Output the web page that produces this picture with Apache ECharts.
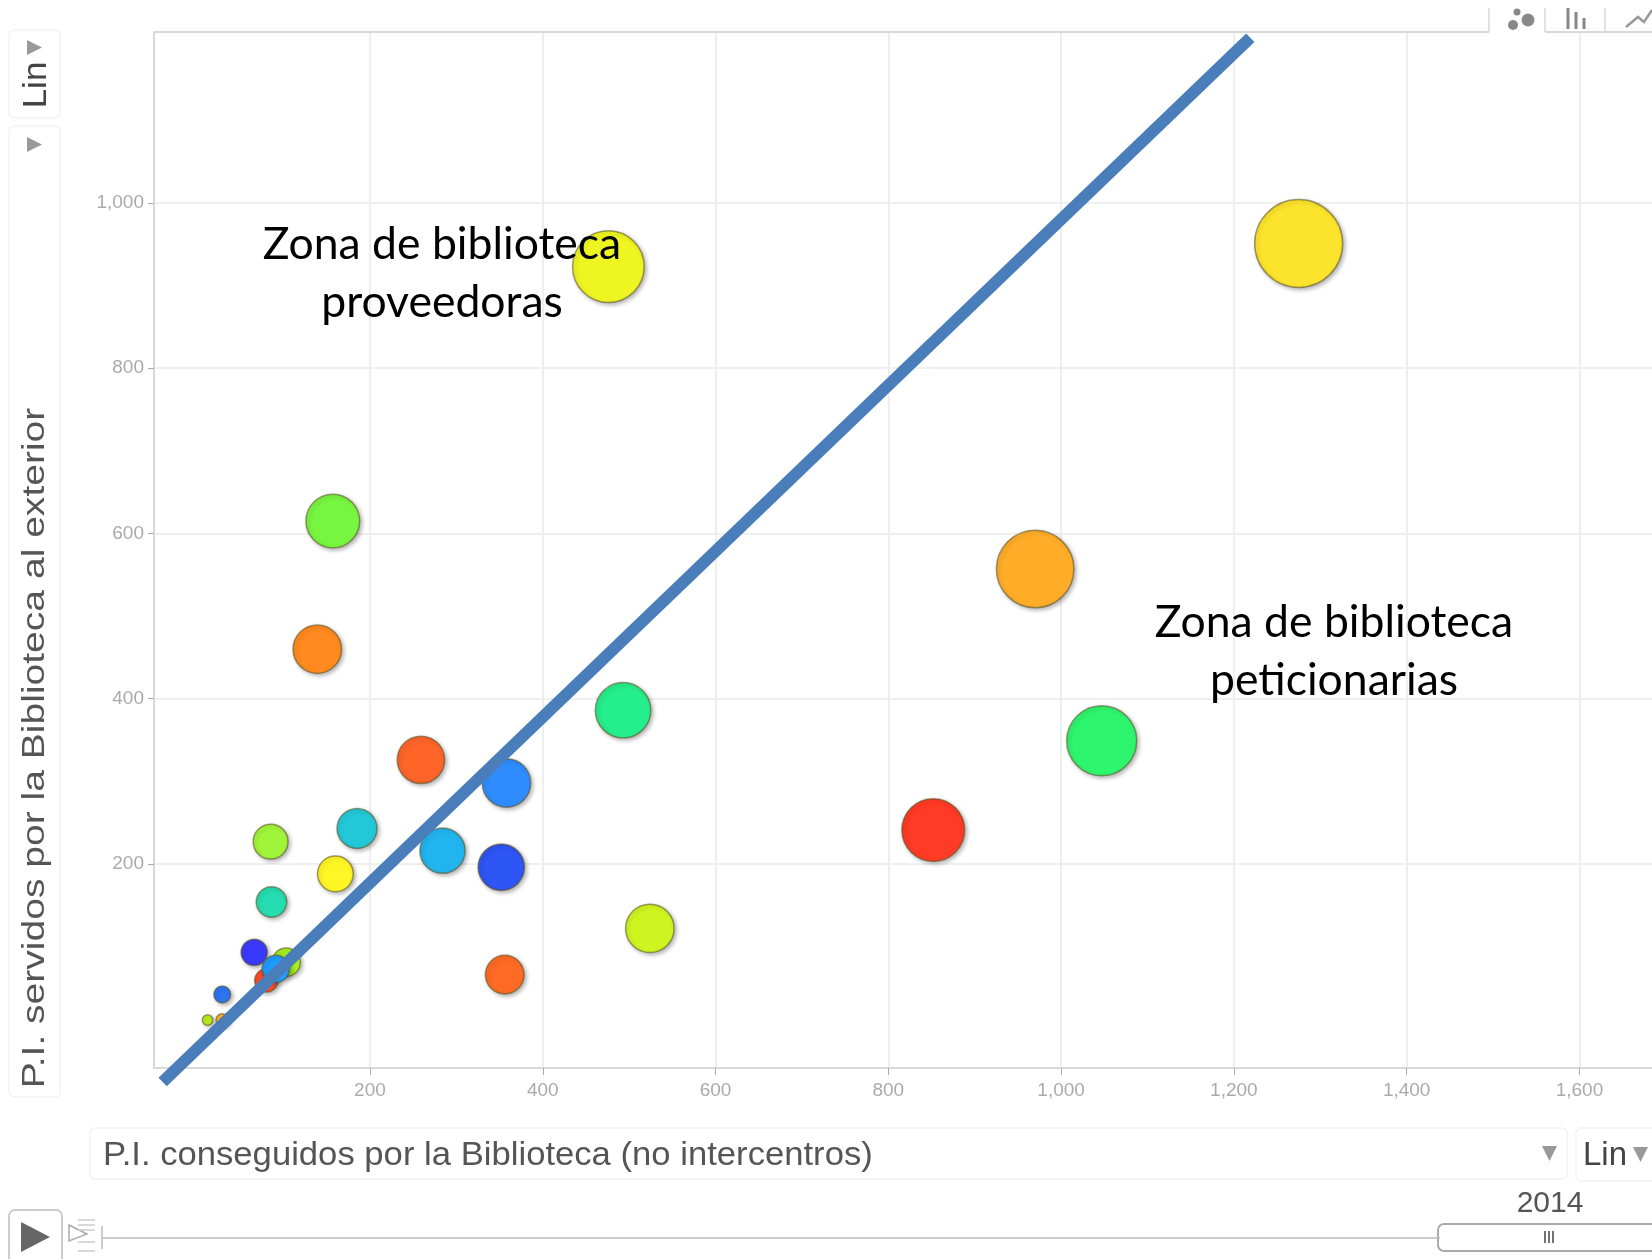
<!DOCTYPE html>
<html><head><meta charset="utf-8">
<style>html,body{margin:0;padding:0;background:#fff;overflow:hidden}#c{width:1652px;height:1259px}</style>
<script src="https://cdn.jsdelivr.net/npm/echarts@6/dist/echarts.min.js"></script>
</head><body><div id="c"></div>
<script>
// P.I. conseguidos (x), P.I. servidos (y), bubble size units, in drawing order
const piConseguidos = [1275,476,970,1047,852,493,157,139,259,358,185,284,352,524,160,85,86,356,66,103,80,91,29,12,29];
const piServidos    = [951,923,557,349,241,386,615,460,326,298,243,216,196,122,188,227,154,66,93,81,59,73,42,11,11];
const bubbleSizes   = [7730,5130,6000,4900,3950,3080,2890,2350,2250,2350,1600,2050,2150,2350,1280,1210,930,1500,690,810,540,750,284,111,160];
const bubbleColors  = ['#FDE42C','#EEF520','#FFAD29','#2EF56E','#FF3A25','#25EE8C','#77F53F','#FF8A1F','#FF6428','#2E8CFF','#22C8D8','#22B4EE','#2E55F5','#CFF520','#FFF625','#A0F53A','#25DDB0','#FF6A25','#3A3AFF','#A6F020','#FF4A25','#1E9CFF','#2E74F5','#B8EE20','#FFB025'];
const xTicks = [200,400,600,800,1000,1200,1400,1600];
const yTicks = [200,400,600,800,1000];
const diagonalX = [-40,1219];
const diagonalY = [-64,1200];
const xTitle = 'P.I. conseguidos por la Biblioteca (no intercentros)';
const yTitle = 'P.I. servidos por la Biblioteca al exterior';
const zoneProvider = 'Zona de biblioteca\nproveedoras';
const zoneRequester = 'Zona de biblioteca\npeticionarias';
const scaleLabel = 'Lin';
const yearLabel = '2014';

const SANS = '"Liberation Sans", Arial, sans-serif';
const box = (x,y,w,h,r,stroke,lw,fill) => ({type:'rect',z:50,shape:{x,y,width:w,height:h,r},style:{fill:fill||'#fff',stroke,lineWidth:lw||1.5}});
const tri = (pts,fill) => ({type:'polygon',z:60,shape:{points:pts},style:{fill:fill||'#999'}});
const seg = (x1,y1,x2,y2,stroke,lw) => ({type:'line',z:60,shape:{x1,y1,x2,y2},style:{stroke,lineWidth:lw||1.5}});
const dot = (cx,cy,r,fill) => ({type:'circle',z:60,shape:{cx,cy,r},style:{fill:fill||'#888'}});
const txt = (x,y,text,size,fill,opts) => Object.assign({type:'text',z:70,x,y,style:{text,fill,font:size+'px '+SANS,textAlign:'center',textVerticalAlign:'middle'}},opts||{});
const zone = (x,y,text) => ({type:'text',z:100,x,y,style:{text,fill:'#000',font:'44.5px Lato',lineHeight:58,textAlign:'center',textVerticalAlign:'middle'}});

const graphics = [
  // left controls
  box(9,30,51,88,5,'#f2f2f2'), box(9,126,51,971,5,'#f2f2f2'),
  tri([[27,40],[42,47.5],[27,55]]), tri([[27,137],[42,144.5],[27,152]]),
  txt(37,85,scaleLabel,33,'#444',{rotation:Math.PI/2,scaleX:1.06}),
  txt(35.5,748,yTitle,32,'#555',{rotation:Math.PI/2,scaleX:1.22}),
  // top border and tabs
  seg(154,32,1489,32,'#d8d8d8',2), seg(1489,8,1489,32,'#d8d8d8',1.5),
  seg(1545,8,1545,32,'#d8d8d8',1.5), seg(1605,8,1605,32,'#d8d8d8',1.5), seg(1545,32,1652,32,'#d8d8d8',2),
  dot(1513,25,5), dot(1528,20,6.5), dot(1517,12,3.5),
  seg(1568,8,1568,29,'#888',3), seg(1576,12,1576,29,'#888',3), seg(1584,18,1584,29,'#888',3),
  {type:'polyline',z:60,shape:{points:[[1626,27],[1638,17],[1644,22],[1652,10]]},style:{stroke:'#999',lineWidth:2.5,fill:null}},
  // x selector
  box(90,1128,1477,51,5,'#f2f2f2'),
  {type:'text',z:70,x:103,y:1156,scaleX:1.05,style:{text:xTitle,fill:'#555',font:'33px '+SANS,textAlign:'left',textVerticalAlign:'middle'}},
  tri([[1542,1146],[1557,1146],[1549.5,1161]]),
  box(1576,1128,90,53,5,'#f2f2f2'),
  {type:'text',z:70,x:1583,y:1156,style:{text:scaleLabel,fill:'#444',font:'33px '+SANS,textAlign:'left',textVerticalAlign:'middle'}},
  tri([[1633,1147],[1648,1147],[1640.5,1162]]),
  // timeline
  txt(1550,1204,yearLabel,30,'#555'),
  seg(102,1238,1440,1238,'#bbb',1.5), seg(102,1226,102,1249,'#bbb',1.5),
  box(1438,1224,240,27,6,'#aaa',2),
  seg(1545,1231,1545,1243,'#444',1.5), seg(1549,1231,1549,1243,'#444',1.5), seg(1553,1231,1553,1243,'#444',1.5),
  box(9,1210,53,60,6,'#ccc',2),
  tri([[21,1222],[50,1237],[21,1252]],'#666'),
  {type:'polygon',z:60,shape:{points:[[69,1225],[87,1234],[69,1241]]},style:{fill:'#fff',stroke:'#aaa',lineWidth:1.5}},
  seg(78,1220,95,1220,'#ccc',1.5), seg(78,1225,95,1225,'#ccc',1.5), seg(78,1230,95,1230,'#ccc',1.5),
  seg(78,1242,95,1242,'#ccc',1.5), seg(78,1251,95,1251,'#ccc',1.5),
  // zone notes
  zone(442,274,zoneProvider), zone(1334,652,zoneRequester)
];

const axisLab = {color:'#aaa',fontSize:19,fontFamily:SANS};
const chart = echarts.init(document.getElementById('c'));
chart.setOption({
  animation:false, backgroundColor:'#fff',
  grid:{left:154,top:32,right:0,bottom:191,containLabel:false},
  xAxis:{type:'value',min:-50,max:1684,
    axisLine:{onZero:false,lineStyle:{color:'#d8d8d8',width:2}},
    axisTick:{customValues:xTicks,length:7,lineStyle:{color:'#aaa',width:1}},
    axisLabel:{customValues:xTicks,margin:13,formatter:v=>v.toLocaleString('en-US'),...axisLab},
    splitLine:{show:true,lineStyle:{color:'#eeeeee',width:2}}},
  yAxis:{type:'value',min:-47,max:1207,
    axisLine:{show:true,onZero:false,lineStyle:{color:'#d8d8d8',width:2}},
    axisTick:{show:true,customValues:yTicks,length:6,lineStyle:{color:'#aaa',width:1}},
    axisLabel:{customValues:yTicks,margin:10,formatter:v=>v.toLocaleString('en-US'),...axisLab},
    splitLine:{show:true,lineStyle:{color:'#f0f0f0',width:2}}},
  graphic:graphics,
  series:[
    {type:'scatter',z:3,clip:false,
      data:piConseguidos.map((x,i)=>({value:[x,piServidos[i],bubbleSizes[i]],itemStyle:{color:bubbleColors[i]}})),
      symbolSize:v=>Math.sqrt(v[2]),
      itemStyle:{opacity:1,borderColor:'rgba(90,80,30,0.55)',borderWidth:1.5,shadowBlur:4,shadowOffsetX:2,shadowOffsetY:2,shadowColor:'rgba(0,0,0,0.3)'},
      emphasis:{disabled:true}},
    {type:'line',z:5,clip:false,showSymbol:false,symbol:'none',silent:true,
      data:diagonalX.map((x,i)=>[x,diagonalY[i]]),
      lineStyle:{color:'#4A7EBB',width:12,cap:'butt'}}
  ]
});
</script></body></html>
